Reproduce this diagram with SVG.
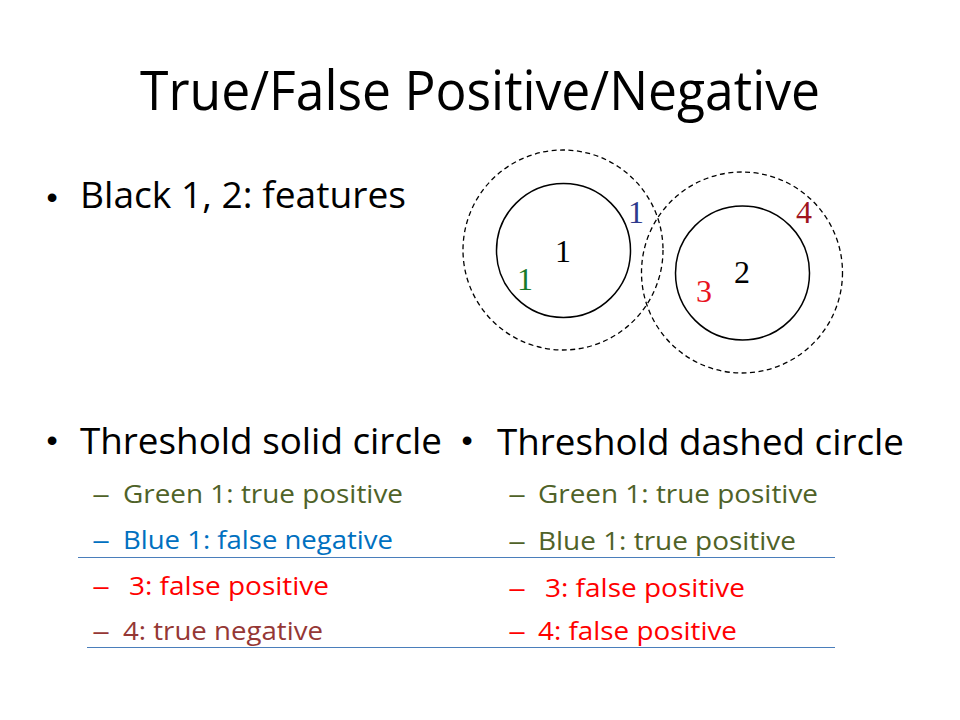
<svg xmlns="http://www.w3.org/2000/svg" width="960" height="720" viewBox="0 0 960 720">
<style>
.sans{font-family:"Open Sans","Liberation Sans",sans-serif;}
.dot{font-family:"Liberation Sans",Arial,sans-serif;font-size:32px;text-anchor:middle;fill:#000;}
.serif{font-family:"Liberation Serif","Times New Roman",serif;font-size:32px;text-anchor:middle;}
.solid{fill:none;stroke:#000;stroke-width:1.5;}
.dashed{fill:none;stroke:#000;stroke-width:1.3;stroke-dasharray:5 3.5;}
.rule{stroke:#4a7ebb;stroke-width:1;}
.green{fill:#4f6228;}
.blue{fill:#0070c0;}
.red{fill:#ff0000;}
.dred{fill:#953735;}
.sub{font-size:26px;}
.big{font-size:36px;}
</style>
<rect width="960" height="720" fill="#fff"/>
<g id="title">
<text class="sans" x="140" y="110" font-size="55" textLength="680" lengthAdjust="spacingAndGlyphs" fill="#000">True/False Positive/Negative</text>
</g>
<g id="bullet-features">
<text class="dot" x="52" y="208">•</text>
<text class="sans big" x="80" y="208" textLength="326" lengthAdjust="spacingAndGlyphs" fill="#000">Black 1, 2: features</text>
</g>
<g id="figure">
<circle class="dashed" cx="563" cy="250" r="100"/>
<circle class="solid" cx="563.5" cy="250.5" r="67"/>
<circle class="dashed" cx="742" cy="272.5" r="100.5"/>
<circle class="solid" cx="742.5" cy="273" r="67"/>
<text class="serif" x="563" y="262" fill="#000">1</text>
<text class="serif" x="525" y="290" fill="#1a7a2a">1</text>
<text class="serif" x="636" y="223" fill="#2e3a8c">1</text>
<text class="serif" x="742" y="283" fill="#000">2</text>
<text class="serif" x="704" y="302" fill="#e8141e">3</text>
<text class="serif" x="804" y="223" fill="#a0141e">4</text>
</g>
<g id="bullet-solid">
<text class="dot" x="52" y="451">•</text>
<text class="sans big" x="80" y="454" textLength="362" lengthAdjust="spacingAndGlyphs" fill="#000">Threshold solid circle</text>
<text class="sans sub green" x="92" y="503" textLength="18" lengthAdjust="spacingAndGlyphs">–</text>
<text class="sans sub green" x="123" y="503" textLength="280" lengthAdjust="spacingAndGlyphs">Green 1: true positive</text>
<text class="sans sub blue" x="92" y="549" textLength="18" lengthAdjust="spacingAndGlyphs">–</text>
<text class="sans sub blue" x="123" y="549" textLength="270" lengthAdjust="spacingAndGlyphs">Blue 1: false negative</text>
<text class="sans sub red" x="92" y="595" textLength="18" lengthAdjust="spacingAndGlyphs">–</text>
<text class="sans sub red" x="129" y="595" textLength="200" lengthAdjust="spacingAndGlyphs">3: false positive</text>
<text class="sans sub dred" x="92" y="640" textLength="18" lengthAdjust="spacingAndGlyphs">–</text>
<text class="sans sub dred" x="123" y="640" textLength="200" lengthAdjust="spacingAndGlyphs">4: true negative</text>
</g>
<g id="bullet-dashed">
<text class="dot" x="467" y="451">•</text>
<text class="sans big" x="497" y="455" textLength="407" lengthAdjust="spacingAndGlyphs" fill="#000">Threshold dashed circle</text>
<text class="sans sub green" x="508" y="503" textLength="18" lengthAdjust="spacingAndGlyphs">–</text>
<text class="sans sub green" x="538" y="503" textLength="280" lengthAdjust="spacingAndGlyphs">Green 1: true positive</text>
<text class="sans sub green" x="508" y="550" textLength="18" lengthAdjust="spacingAndGlyphs">–</text>
<text class="sans sub green" x="538" y="550" textLength="258" lengthAdjust="spacingAndGlyphs">Blue 1: true positive</text>
<text class="sans sub red" x="508" y="597" textLength="18" lengthAdjust="spacingAndGlyphs">–</text>
<text class="sans sub red" x="545" y="597" textLength="200" lengthAdjust="spacingAndGlyphs">3: false positive</text>
<text class="sans sub red" x="508" y="640" textLength="18" lengthAdjust="spacingAndGlyphs">–</text>
<text class="sans sub red" x="538" y="640" textLength="199" lengthAdjust="spacingAndGlyphs">4: false positive</text>
</g>
<g id="connectors">
<line class="rule" x1="78" y1="557.5" x2="835" y2="557.5"/>
<line class="rule" x1="87" y1="647.5" x2="835" y2="647.5"/>
</g>
</svg>
